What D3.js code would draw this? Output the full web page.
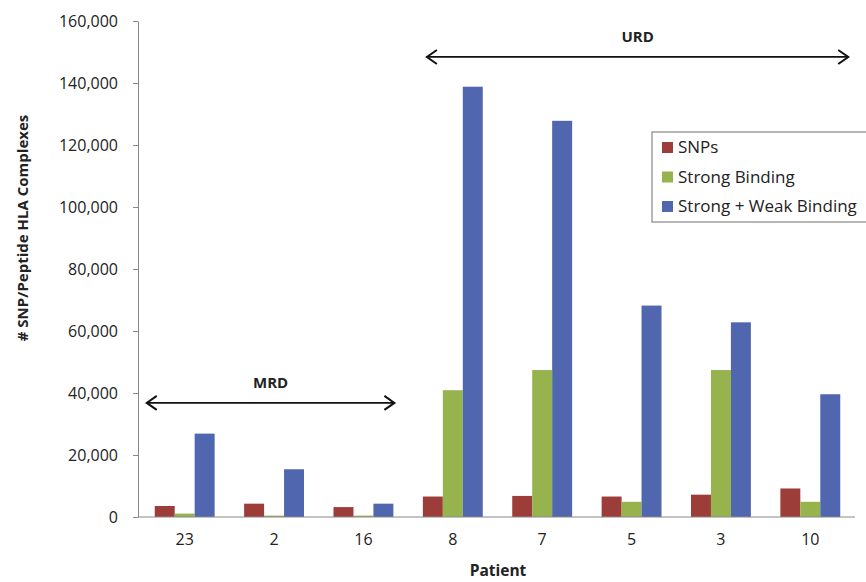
<!DOCTYPE html>
<html><head><meta charset="utf-8">
<script src="https://cdn.jsdelivr.net/npm/d3@7"></script>
<style>body{margin:0;background:#fff}svg{display:block}text{font-family:"Open Sans",Lato,sans-serif;fill:#222}</style>
</head><body><svg id="c" width="866" height="582"></svg>
<script>
const patients = ["23","2","16","8","7","5","3","10"];
const seriesNames = ["SNPs","Strong Binding","Strong + Weak Binding"];
const snps = [3550,4300,3200,6600,6800,6600,7200,9200];
const strong = [1100,450,450,40900,47400,4900,47400,4900];
const strongWeak = [26900,15400,4300,138800,127800,68200,62800,39600];
const yTicks = [0,20000,40000,60000,80000,100000,120000,140000,160000];
const colors = ["#9C3D3A","#97B34E","#5066AE"];
const groupLabels = ["MRD","URD"];
const groupFrom = ["23","8"];
const groupTo = ["16","10"];
const groupLevel = [36800,148400];

(function(){
const svg = d3.select("#c");
const L = 138, R = 855, T = 21, B = 517;
const x = d3.scaleBand().domain(patients).range([L+2, R]).paddingInner(0.33).paddingOuter(0.165);
const xs1 = d3.scaleBand().domain(seriesNames).range([0, x.bandwidth()]);
const y = d3.scaleLinear().domain([0,160000]).range([B, T]);
const series = [snps, strong, strongWeak];

const g = svg.append("g");
series.forEach((vals, si) => {
  g.selectAll(null).data(vals).enter().append("rect")
    .attr("x", (d,i) => x(patients[i]) + xs1(seriesNames[si]))
    .attr("y", d => y(d))
    .attr("width", xs1.bandwidth())
    .attr("height", d => y(0) - y(d))
    .attr("fill", colors[si]);
});

const ya = svg.append("g").attr("transform", `translate(${L},0)`)
  .call(d3.axisLeft(y).tickValues(yTicks).tickFormat(d3.format(",")).tickSize(5).tickSizeOuter(0).tickPadding(15));
ya.select(".domain").attr("stroke","#888");
ya.selectAll(".tick line").attr("stroke","#888");
ya.selectAll("text").style("font-size","16px").attr("fill","#333");

const xa = svg.append("g").attr("transform", `translate(0,${B})`)
  .call(d3.axisBottom(x).tickSize(0).tickPadding(17));
xa.select(".domain").attr("stroke","#888").attr("d", `M${L},0H${R}`);
xa.selectAll("text").style("font-size","16px").attr("fill","#333");

svg.append("text").attr("x", 498).attr("y", 576).attr("text-anchor","middle")
  .style("font-size","15.5px").style("font-weight","bold").text("Patient");
svg.append("text").attr("transform","translate(28,228) rotate(-90)").attr("text-anchor","middle")
  .style("font-size","15px").style("font-weight","bold").text("# SNP/Peptide HLA Complexes");

function arrowHead(x0, y0, dir){
  svg.append("path").attr("d", `M${x0 - dir*10},${y0-7}L${x0},${y0}L${x0 - dir*10},${y0+7}`)
    .attr("fill","none").attr("stroke","#111").attr("stroke-width",2);
}
groupLabels.forEach((lab, k) => {
  const xs = k === 0 ? x(groupFrom[k]) - 8 : x(groupFrom[k]) + 4;
  const xe = k === 0 ? x(groupTo[k]) + x.bandwidth() + 1 : x(groupTo[k]) + x.bandwidth() + 8;
  const yy = y(groupLevel[k]);
  svg.append("line").attr("x1", xs).attr("x2", xe).attr("y1", yy).attr("y2", yy)
    .attr("stroke","#111").attr("stroke-width",1.8);
  arrowHead(xs, yy, -1); arrowHead(xe, yy, 1);
  svg.append("text").attr("x", (xs+xe)/2).attr("y", yy-15).attr("text-anchor","middle")
    .style("font-size","15px").style("font-weight","bold").text(lab);
});

const lg = svg.append("g").attr("transform","translate(652,132)");
lg.append("rect").attr("width", 240).attr("height", 90).attr("fill","#fff").attr("stroke","#888").attr("stroke-width",1.2);
seriesNames.forEach((n,i) => {
  lg.append("rect").attr("x",10).attr("y",10+i*29.5).attr("width",11).attr("height",11).attr("fill",colors[i]);
  lg.append("text").attr("x",26).attr("y",21+i*29.5).style("font-size","17px").attr("fill","#222").text(n);
});
})();
</script></body></html>
